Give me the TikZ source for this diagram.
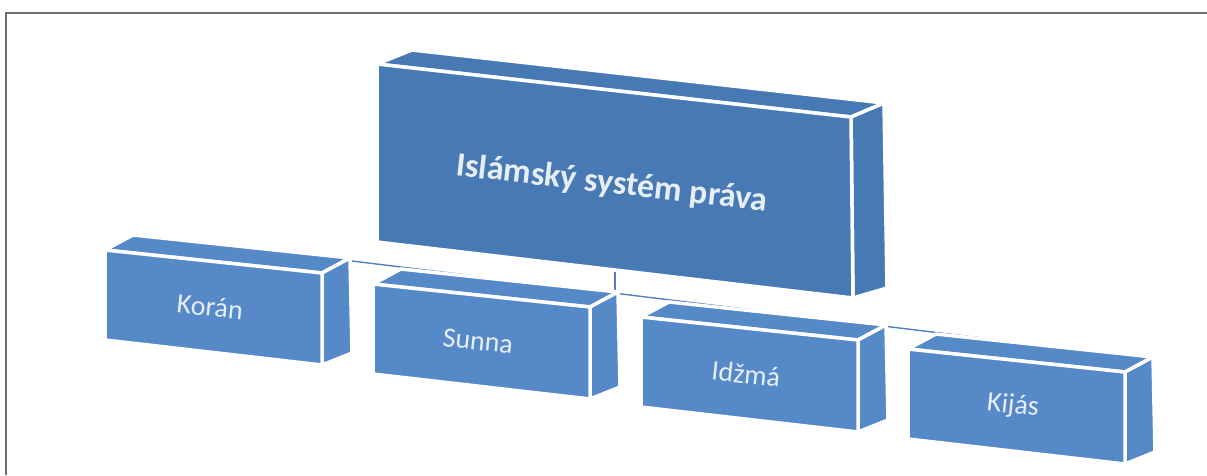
\documentclass[tikz,border=0pt]{standalone}
\usepackage{fontspec}
\setmainfont{Carlito}
\definecolor{topblue}{RGB}{71,122,181}
\definecolor{lowblue}{RGB}{86,137,200}
\definecolor{linkblue}{RGB}{79,129,189}
\definecolor{txt}{RGB}{232,238,247}
\definecolor{framegray}{RGB}{112,112,112}
\tikzset{
  face/.style={draw=white,line width=3.5pt,line join=miter},
  toplabel/.style={text=txt,font=\bfseries\fontsize{34}{40}\selectfont,rotate=-6.5,inner sep=0pt},
  lowlabel/.style={text=txt,font=\fontsize{28}{32}\selectfont,rotate=-6,inner sep=0pt},
  link/.style={draw=linkblue,line width=1.4pt}
}
\newcommand\lowbox[3]{%
  \begin{scope}[shift={(#1)}]
    \fill[lowblue,face] (0,0) -- (217,23) -- (245,8) -- (28,-15) -- cycle;
    \fill[lowblue,face] (217,23) -- (245,8) -- (247,103) -- (217,115) -- cycle;
    \fill[lowblue,face] (0,0) -- (217,23) -- (217,115) -- (0,90) -- cycle;
    \node[lowlabel] (#2) at (105,57) {#3};
  \end{scope}}
\begin{document}
\begin{tikzpicture}[x=1pt,y=-1pt]
\useasboundingbox (0,0) rectangle (1207,475);
% frame
\draw[framegray,line width=1.6pt] (6,475) -- (6,13) -- (1207,13);
% connectors (behind the boxes)
\coordinate (busL) at (213,244);
\coordinate (busR) at (1022,343);
\coordinate (topc) at (615,262);
\coordinate (busM) at (615,291);
\draw[link] (busL) -- (busR);
\draw[link] (topc) -- (busM);
% top box
\fill[topblue,face] (377,64) -- (851,117) -- (884,103) -- (412,50) -- cycle;
\fill[topblue,face] (851,117) -- (884,103) -- (887,288) -- (853,298) -- cycle;
\fill[topblue,face] (377,64) -- (851,117) -- (853,298) -- (377,242) -- cycle;
\node[toplabel] (root) at (612,184) {Islámský systém práva};
% lower boxes
\lowbox{105,250}{koran}{Korán}
\lowbox{373,284}{sunna}{Sunna}
\lowbox{641,317}{idzma}{Idžmá}
\lowbox{908,349}{kijas}{Kijás}
\end{tikzpicture}
\end{document}
